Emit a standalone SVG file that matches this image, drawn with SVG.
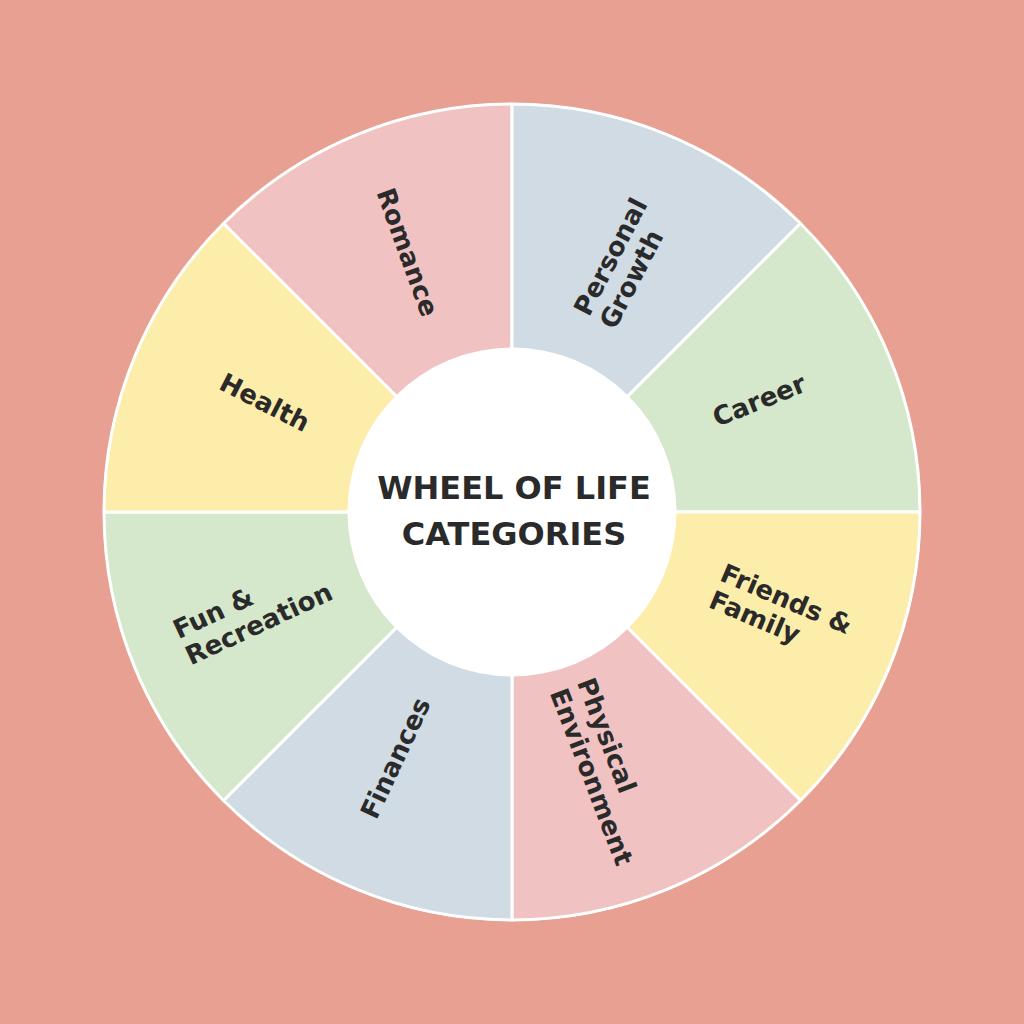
<svg xmlns="http://www.w3.org/2000/svg" width="1024" height="1024" viewBox="0 0 1024 1024">
<style>
.seg{stroke:#ffffff;stroke-width:3;stroke-linejoin:round}
.pink{fill:#F0C2C2}.blue{fill:#D0DBE3}.green{fill:#D5E8CB}.yellow{fill:#FDEDAB}
.lbl{font-family:"DejaVu Sans","Liberation Sans",sans-serif;font-weight:700;font-size:26px;fill:#2a2a2a}
.title{font-family:"DejaVu Sans","Liberation Sans",sans-serif;font-weight:700;font-size:32px;fill:#2a2a2a;text-anchor:middle}
</style>
<rect width="1024" height="1024" fill="#E8A093"/>
<circle cx="512" cy="512" r="409" fill="#ffffff"/>
<g id="romance">
<path class="seg pink" d="M512,512 L223.5,223.5 A408,408 0 0 1 512,104 Z"/>
<text class="lbl" text-anchor="middle" transform="translate(408,252) rotate(70)" x="0" y="9.5">Romance</text>
</g>
<g id="personal-growth">
<path class="seg blue" d="M512,512 L512,104 A408,408 0 0 1 800.5,223.5 Z"/>
<g transform="translate(623,263) rotate(-62.5)">
<text class="lbl" x="-64" y="-5">Personal</text>
<text class="lbl" x="-64" y="24">Growth</text>
</g>
</g>
<g id="career">
<path class="seg green" d="M512,512 L800.5,223.5 A408,408 0 0 1 920,512 Z"/>
<text class="lbl" text-anchor="middle" transform="translate(759,400) rotate(-22)" x="0" y="9.5">Career</text>
</g>
<g id="friends-family">
<path class="seg yellow" d="M512,512 L920,512 A408,408 0 0 1 800.5,800.5 Z"/>
<g transform="translate(781,612) rotate(23)">
<text class="lbl" x="-70" y="-5">Friends &amp;</text>
<text class="lbl" x="-70" y="24">Family</text>
</g>
</g>
<g id="physical-environment">
<path class="seg pink" d="M512,512 L800.5,800.5 A408,408 0 0 1 512,920 Z"/>
<g transform="translate(605,770) rotate(69)">
<text class="lbl" x="-92" y="-5">Physical</text>
<text class="lbl" x="-92" y="24">Environment</text>
</g>
</g>
<g id="finances">
<path class="seg blue" d="M512,512 L512,920 A408,408 0 0 1 223.5,800.5 Z"/>
<text class="lbl" text-anchor="middle" transform="translate(395,758) rotate(-65)" x="0" y="9.5">Finances</text>
</g>
<g id="fun-recreation">
<path class="seg green" d="M512,512 L223.5,800.5 A408,408 0 0 1 104,512 Z"/>
<g transform="translate(253,610) rotate(-25)">
<text class="lbl" x="-80" y="-5">Fun &amp;</text>
<text class="lbl" x="-80" y="24">Recreation</text>
</g>
</g>
<g id="health">
<path class="seg yellow" d="M512,512 L104,512 A408,408 0 0 1 223.5,223.5 Z"/>
<text class="lbl" text-anchor="middle" transform="translate(265,402) rotate(27)" x="0" y="9.5">Health</text>
</g>
<g id="center">
<circle cx="512" cy="512" r="164.5" fill="#ffffff"/>
<text class="title" x="514" y="499">WHEEL OF LIFE</text>
<text class="title" x="514" y="545">CATEGORIES</text>
</g>
</svg>
